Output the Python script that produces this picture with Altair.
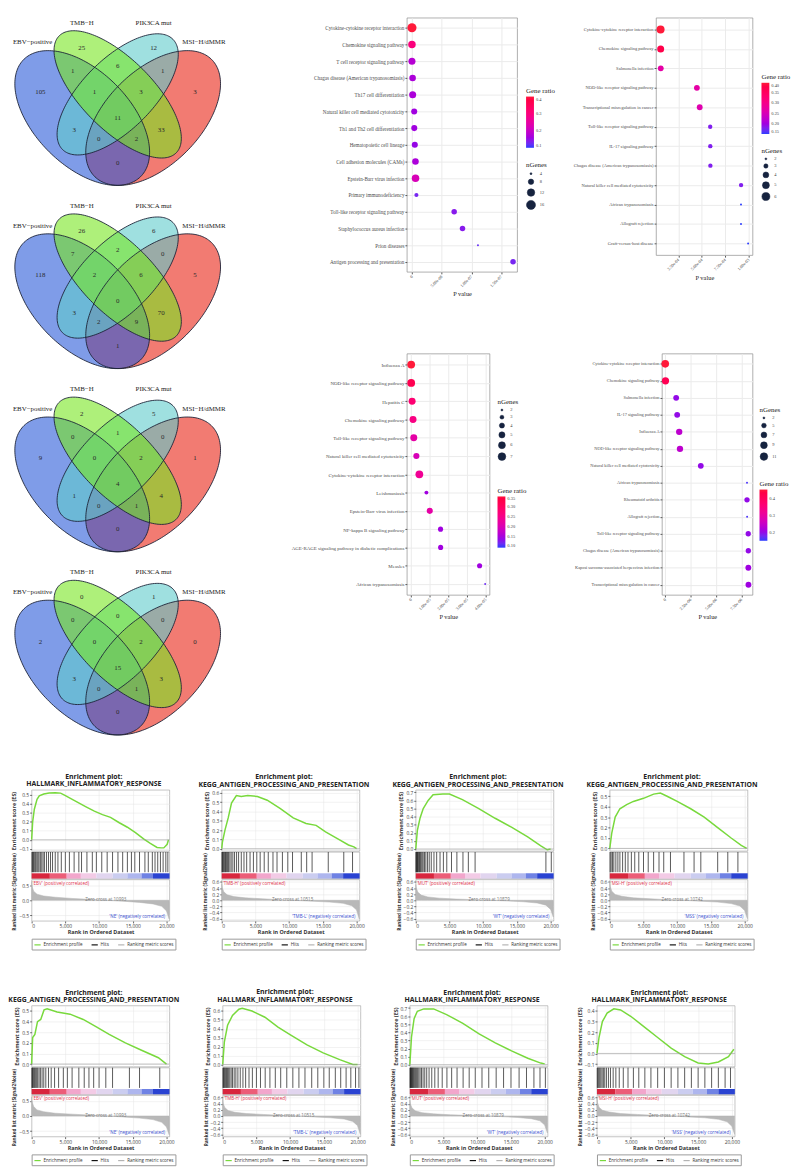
import altair as alt
import numpy as np
import pandas as pd

SERIF = "Liberation Serif"
SANS = "Open Sans"

# ===================== Venn diagrams (data) =====================
SET_NAMES = ["EBV−positive", "TMB−H", "PIK3CA mut", "MSI−H/dMMR"]
REGIONS = ["E", "T", "P", "M", "ET", "TP", "PM", "ETP", "TPM", "EP", "ETPM", "TM", "EPM", "ETM", "EM"]
VENN_1 = [105, 25, 12, 3, 1, 6, 1, 1, 3, 3, 11, 33, 0, 2, 0]
VENN_2 = [118, 26, 6, 5, 7, 2, 0, 2, 6, 3, 0, 70, 2, 9, 1]
VENN_3 = [9, 2, 5, 1, 0, 1, 0, 0, 2, 1, 4, 4, 0, 1, 0]
VENN_4 = [2, 0, 1, 0, 0, 0, 0, 0, 2, 3, 15, 3, 0, 1, 0]
VENN_COUNTS = [VENN_1, VENN_2, VENN_3, VENN_4]

# ===================== KEGG dot plots (data) =====================
DP1_PATHWAYS = ["Cytokine-cytokine receptor interaction", "Chemokine signaling pathway",
                "T cell receptor signaling pathway", "Chagas disease (American trypanosomiasis)",
                "Th17 cell differentiation", "Natural killer cell mediated cytotoxicity",
                "Th1 and Th2 cell differentiation", "Hematopoietic cell lineage",
                "Cell adhesion molecules (CAMs)", "Epstein-Barr virus infection",
                "Primary immunodeficiency", "Toll-like receptor signaling pathway",
                "Staphylococcus aureus infection", "Prion diseases",
                "Antigen processing and presentation"]
DP1_P = [5e-12, 1e-11, 2e-11, 1.1e-9, 1.2e-9, 3.8e-9, 3.9e-9, 4.8e-9, 5.9e-9, 6.0e-9,
         7.5e-9, 7.1e-8, 8.5e-8, 1.11e-7, 1.70e-7]
DP1_RATIO = [0.40, 0.30, 0.18, 0.17, 0.17, 0.16, 0.16, 0.15, 0.17, 0.22, 0.13, 0.14, 0.14, 0.12, 0.13]
DP1_N = [16, 12, 11, 10, 11, 9, 9, 9, 10, 12, 6, 8, 8, 4, 8]
DP1_XTICKS = [0, 5e-08, 1e-07, 1.5e-07]
DP1_XLABELS = ["0", "5.00e-08", "1.00e-07", "1.50e-07"]

DP2_PATHWAYS = ["Cytokine-cytokine receptor interaction", "Chemokine signaling pathway",
                "Salmonella infection", "NOD-like receptor signaling pathway",
                "Transcriptional misregulation in cancer", "Toll-like receptor signaling pathway",
                "IL-17 signaling pathway", "Chagas disease (American trypanosomiasis)",
                "Natural killer cell mediated cytotoxicity", "African trypanosomiasis",
                "Allograft rejection", "Graft-versus-host disease"]
DP2_P = [6e-5, 6.1e-5, 6.2e-5, 4.48e-4, 4.78e-4, 5.9e-4, 5.91e-4, 5.92e-4, 9.2e-4, 9.19e-4, 9.19e-4, 9.95e-4]
DP2_RATIO = [0.40, 0.38, 0.27, 0.27, 0.26, 0.18, 0.18, 0.18, 0.18, 0.15, 0.15, 0.15]
DP2_N = [6, 5, 4, 4, 4, 3, 3, 3, 3, 2, 2, 2]
DP2_XTICKS = [0.00025, 0.0005, 0.00075, 0.001]
DP2_XLABELS = ["2.50e-04", "5.00e-04", "7.50e-04", "1.00e-03"]

DP3_PATHWAYS = ["Influenza A", "NOD-like receptor signaling pathway", "Hepatitis C",
                "Chemokine signaling pathway", "Toll-like receptor signaling pathway",
                "Natural killer cell mediated cytotoxicity", "Cytokine-cytokine receptor interaction",
                "Leishmaniasis", "Epstein-Barr virus infection", "NF-kappa B signaling pathway",
                "AGE-RAGE signaling pathway in diabetic complications", "Measles",
                "African trypanosomiasis"]
DP3_P = [1e-8, 2e-8, 5e-7, 1.0e-6, 1.4e-6, 2.8e-6, 4.4e-6, 8.2e-6, 1.0e-5, 1.58e-5, 1.585e-5, 3.68e-5, 3.98e-5]
DP3_RATIO = [0.35, 0.32, 0.28, 0.26, 0.22, 0.20, 0.24, 0.15, 0.22, 0.15, 0.15, 0.15, 0.12]
DP3_N = [7, 7, 6, 6, 6, 5, 7, 3, 5, 4, 4, 4, 2]
DP3_XTICKS = [0, 1e-05, 2e-05, 3e-05, 4e-05]
DP3_XLABELS = ["0", "1.00e-05", "2.00e-05", "3.00e-05", "4.00e-05"]

DP4_PATHWAYS = ["Cytokine-cytokine receptor interaction", "Chemokine signaling pathway",
                "Salmonella infection", "IL-17 signaling pathway", "Influenza A",
                "NOD-like receptor signaling pathway", "Natural killer cell mediated cytotoxicity",
                "African trypanosomiasis", "Rheumatoid arthritis", "Allograft rejection",
                "Toll-like receptor signaling pathway", "Chagas disease (American trypanosomiasis)",
                "Kaposi sarcoma-associated herpesvirus infection",
                "Transcriptional misregulation in cancer"]
DP4_P = [1e-9, 2.5e-8, 1.075e-6, 1.175e-6, 1.375e-6, 1.45e-6, 3.5e-6, 8.05e-6, 8.05e-6, 8.06e-6,
         8.17e-6, 8.18e-6, 8.18e-6, 8.19e-6]
DP4_RATIO = [0.46, 0.42, 0.20, 0.20, 0.24, 0.24, 0.20, 0.16, 0.20, 0.16, 0.20, 0.20, 0.21, 0.21]
DP4_N = [11, 10, 7, 7, 8, 8, 7, 2, 6, 2, 6, 6, 7, 7]
DP4_XTICKS = [0, 2.5e-06, 5e-06, 7.5e-06]
DP4_XLABELS = ["0", "2.50e-06", "5.00e-06", "7.50e-06"]

DP_PATHWAYS = [DP1_PATHWAYS, DP2_PATHWAYS, DP3_PATHWAYS, DP4_PATHWAYS]
DP_P = [DP1_P, DP2_P, DP3_P, DP4_P]
DP_RATIO = [DP1_RATIO, DP2_RATIO, DP3_RATIO, DP4_RATIO]
DP_N = [DP1_N, DP2_N, DP3_N, DP4_N]
DP_XTICKS = [DP1_XTICKS, DP2_XTICKS, DP3_XTICKS, DP4_XTICKS]
DP_XLABELS = [DP1_XLABELS, DP2_XLABELS, DP3_XLABELS, DP4_XLABELS]
DP_RATIO_TICKS = [[0.1, 0.2, 0.3, 0.4], [0.15, 0.2, 0.25, 0.3, 0.35, 0.4],
                  [0.1, 0.15, 0.2, 0.25, 0.3, 0.35], [0.2, 0.3, 0.4]]
DP_N_TICKS = [[4, 8, 12, 16], [2, 3, 4, 5, 6], [2, 3, 4, 5, 6, 7], [2, 5, 7, 9, 11]]

# ===================== GSEA plots (data) =====================
GSEA_GENESET = ["HALLMARK_INFLAMMATORY_RESPONSE", "KEGG_ANTIGEN_PROCESSING_AND_PRESENTATION",
                "KEGG_ANTIGEN_PROCESSING_AND_PRESENTATION", "KEGG_ANTIGEN_PROCESSING_AND_PRESENTATION",
                "KEGG_ANTIGEN_PROCESSING_AND_PRESENTATION", "HALLMARK_INFLAMMATORY_RESPONSE",
                "HALLMARK_INFLAMMATORY_RESPONSE", "HALLMARK_INFLAMMATORY_RESPONSE"]
GSEA_POS = ["'EBV' (positively correlated)", "'TMB-H' (positively correlated)",
            "'MUT' (positively correlated)", "'MSI-H' (positively correlated)"] * 2
GSEA_NEG = ["'NE' (negatively correlated)", "'TMB-L' (negatively correlated)",
            "'WT' (negatively correlated)", "'MSS' (negatively correlated)"] * 2
GSEA_ZERO = [10993, 10515, 10879, 10742, 10993, 10515, 10879, 10742]

ES1_R = [0, 150, 400, 800, 1130, 1800, 2600, 3500, 4300, 4800, 6500, 8000, 9300, 10500, 11700,
         13000, 14200, 15400, 16600, 17600, 18600, 19200, 19600, 20100, 20300]
ES1_V = [0, 0.2, 0.34, 0.45, 0.49, 0.51, 0.52, 0.525, 0.52, 0.50, 0.43, 0.37, 0.32, 0.28, 0.25,
         0.19, 0.14, 0.08, 0.01, -0.04, -0.085, -0.09, -0.09, -0.05, 0.0]
ES2_R = [0, 100, 480, 960, 1450, 2170, 2900, 3850, 5300, 6750, 8700, 10600, 12500, 14000, 15400,
         17350, 18800, 19600, 20000]
ES2_V = [0, 0.07, 0.2, 0.33, 0.49, 0.57, 0.56, 0.57, 0.56, 0.52, 0.43, 0.33, 0.27, 0.25, 0.18,
         0.1, 0.04, 0.02, 0.0]
ES3_R = [0, 240, 630, 1110, 1840, 2570, 4020, 5000, 6920, 9350, 11770, 14190, 16600, 18550, 19500, 20000]
ES3_V = [0, 0.23, 0.38, 0.5, 0.6, 0.67, 0.68, 0.68, 0.61, 0.5, 0.38, 0.27, 0.15, 0.04, -0.01, 0.0]
ES4_R = [0, 300, 800, 1500, 2500, 3500, 5000, 6500, 7500, 8500, 10000, 12000, 14000, 16000, 18000,
         19500, 20300]
ES4_V = [0, 0.15, 0.3, 0.38, 0.42, 0.45, 0.48, 0.52, 0.53, 0.5, 0.45, 0.38, 0.3, 0.2, 0.1, 0.03, 0.0]
ES5_R = [0, 150, 480, 870, 1350, 1840, 2300, 3780, 5700, 7650, 9600, 11500, 13900, 16300, 18800, 20000]
ES5_V = [0, 0.25, 0.28, 0.4, 0.42, 0.51, 0.52, 0.49, 0.47, 0.42, 0.35, 0.28, 0.2, 0.13, 0.06, 0.0]
ES6_R = [0, 240, 720, 1450, 2400, 2900, 4340, 6260, 8200, 10100, 12500, 14900, 17350, 19300, 20000]
ES6_V = [0, 0.25, 0.44, 0.55, 0.62, 0.63, 0.6, 0.53, 0.42, 0.33, 0.22, 0.13, 0.055, 0.0, 0.0]
ES7_R = [0, 240, 630, 1110, 2070, 3520, 5450, 7860, 10270, 12670, 15080, 17490, 19420, 20000]
ES7_V = [0, 0.34, 0.57, 0.66, 0.69, 0.69, 0.62, 0.51, 0.38, 0.27, 0.17, 0.08, 0.02, 0.01]
ES8_R = [0, 300, 800, 1500, 2500, 3500, 5000, 7000, 9000, 11000, 13000, 15000, 16500, 18000, 19500, 20300]
ES8_V = [0, 0.15, 0.3, 0.38, 0.42, 0.41, 0.35, 0.25, 0.15, 0.05, -0.03, -0.09, -0.1, -0.08, -0.03, 0.04]
ES_R = [ES1_R, ES2_R, ES3_R, ES4_R, ES5_R, ES6_R, ES7_R, ES8_R]
ES_V = [ES1_V, ES2_V, ES3_V, ES4_V, ES5_V, ES6_V, ES7_V, ES8_V]
ES_TICKS = [[-0.1, 0, 0.1, 0.2, 0.3, 0.4, 0.5], [0, 0.1, 0.2, 0.3, 0.4, 0.5, 0.6],
            [0, 0.1, 0.2, 0.3, 0.4, 0.5, 0.6, 0.7], [0, 0.1, 0.2, 0.3, 0.4, 0.5],
            [0, 0.1, 0.2, 0.3, 0.4, 0.5], [0, 0.1, 0.2, 0.3, 0.4, 0.5, 0.6],
            [0, 0.1, 0.2, 0.3, 0.4, 0.5, 0.6, 0.7], [-0.1, 0, 0.1, 0.2, 0.3, 0.4]]

HITS1 = [60, 150, 260, 380, 520, 640, 800, 950, 1100, 1300, 1500, 1700, 1900, 2200, 2500, 2800, 3100,
         3500, 3900, 4400, 5000, 5600, 6300, 7000, 7400, 8200, 9000, 9600, 10400, 11200, 12000, 12800,
         13500, 14200, 14800, 15300, 16000, 16800, 17300, 17900, 18300, 18700, 19100, 19500, 19900, 20200]
HITS2 = [40, 120, 230, 330, 450, 560, 700, 850, 1000, 1200, 1400, 1650, 1900, 2200, 2500, 2900, 3300,
         3700, 4200, 4700, 5200, 5700, 6300, 6900, 7600, 8200, 9000, 9800, 10500, 11800, 12600, 13400,
         15800, 18100, 19400]
HITS3 = [30, 100, 180, 260, 350, 450, 560, 680, 800, 950, 1100, 1300, 1500, 1750, 2000, 2300, 2700,
         3100, 3600, 4100, 4600, 5300, 6100, 7000, 7800, 8800, 19300, 20100]
HITS4 = [50, 200, 400, 600, 900, 1200, 1500, 1900, 2300, 2700, 3200, 3700, 4300, 5000, 5700, 6500,
         7300, 8000, 9000, 11000, 12500, 13500, 16000, 17500, 19000]
HITS5 = [40, 120, 220, 330, 450, 600, 750, 900, 1100, 1300, 1550, 1800, 2100, 2500, 2900, 3400, 4000,
         4700, 5300, 6000, 7000, 7800, 8500, 9200, 10000, 11000, 12000, 14500, 16000, 19000]
HITS6 = [40, 130, 230, 340, 460, 580, 720, 880, 1050, 1250, 1450, 1700, 1950, 2250, 2600, 3000, 3400,
         3900, 4400, 5000, 5600, 6300, 7000, 7800, 8600, 9500, 10400, 11300, 12200, 13200, 14100,
         15000, 15800, 16700, 17500, 18300, 19000, 19700, 20200]
HITS7 = [30, 90, 160, 240, 320, 410, 510, 620, 740, 870, 1010, 1160, 1330, 1520, 1730, 1960, 2210,
         2500, 2850, 3250, 3700, 4200, 4800, 5500, 6200, 7000, 7900, 8800, 9700, 10700, 11700, 12800,
         13900, 15000, 16200, 17300, 18400, 19300, 20100]
HITS8 = [50, 150, 280, 420, 580, 760, 950, 1150, 1400, 1700, 2000, 2400, 2800, 3300, 3900, 4600, 5400,
         6200, 7100, 8000, 9000, 10000, 11000, 12000, 13000, 14000, 15000, 16000, 17000, 18000, 19000, 19800]
HITS = [HITS1, HITS2, HITS3, HITS4, HITS5, HITS6, HITS7, HITS8]

BAND_START = [0, 2700, 5200, 7300, 9600, 12000, 14200, 16300, 18000]
BAND_END = [2700, 5200, 7300, 9600, 12000, 14200, 16300, 18000, 20450]

MET_R = [0, 80, 300, 800, 1800, 3500, 6000, 8500, 11000, 13500, 16000, 18000, 19300, 20000, 20400]
MET1 = [0.62, 0.45, 0.30, 0.20, 0.14, 0.10, 0.06, 0.03, 0.00, -0.03, -0.07, -0.12, -0.20, -0.35, -0.62]
MET2 = [0.55, 0.42, 0.28, 0.18, 0.12, 0.08, 0.05, 0.02, -0.005, -0.03, -0.06, -0.10, -0.18, -0.32, -0.62]
MET3 = [0.52, 0.40, 0.27, 0.17, 0.11, 0.07, 0.04, 0.02, 0.00, -0.02, -0.05, -0.09, -0.16, -0.30, -0.55]
MET4 = [0.60, 0.45, 0.30, 0.19, 0.13, 0.08, 0.05, 0.02, 0.00, -0.03, -0.06, -0.11, -0.19, -0.34, -0.60]
MET5 = [0.62, 0.46, 0.31, 0.20, 0.14, 0.09, 0.06, 0.03, 0.00, -0.03, -0.07, -0.12, -0.21, -0.36, -0.62]
MET6 = [0.55, 0.41, 0.28, 0.18, 0.12, 0.08, 0.05, 0.02, -0.005, -0.03, -0.06, -0.10, -0.18, -0.32, -0.60]
MET7 = [0.52, 0.40, 0.27, 0.17, 0.11, 0.07, 0.04, 0.02, 0.00, -0.02, -0.05, -0.09, -0.16, -0.30, -0.56]
MET8 = [0.58, 0.44, 0.29, 0.19, 0.13, 0.08, 0.05, 0.02, 0.00, -0.03, -0.06, -0.11, -0.19, -0.34, -0.60]
MET_V = [MET1, MET2, MET3, MET4, MET5, MET6, MET7, MET8]
MET_TICKS = [[-0.5, 0, 0.5]] + [[-0.6, -0.4, -0.2, 0, 0.2, 0.4, 0.6]] * 3 + \
            [[-0.5, 0, 0.5]] + [[-0.6, -0.4, -0.2, 0, 0.2, 0.4, 0.6]] * 3

LEG_ITEMS = ["Enrichment profile", "Hits", "Ranking metric scores"]

# ===================== layout / style constants =====================
VENN_W, VENN_H, VENN_S = 225, 174, 240.0
VX = [0.136, 0.136 + VENN_W / VENN_S]
VY = [0.894 - VENN_H / VENN_S, 0.894]
ELLIPSES = [(0.35, 0.47, 0.35, 0.20, 135), (0.50, 0.57, 0.35, 0.15, 135),
            (0.50, 0.57, 0.33, 0.15, 45), (0.65, 0.47, 0.35, 0.20, 45)]
VENN_FILL = ["#2a5ad8", "#78e621", "#5fcbcb", "#e92314"]
DRAW_ORDER = [3, 0, 2, 1]
REGION_X = [0.173, 0.348, 0.652, 0.827, 0.31, 0.5, 0.69, 0.402, 0.598, 0.316, 0.5, 0.684, 0.42, 0.58, 0.5]
REGION_Y = [0.58, 0.767, 0.767, 0.58, 0.67, 0.688, 0.67, 0.58, 0.58, 0.42, 0.47, 0.42, 0.38, 0.38, 0.28]
NAME_X = [0.2235, 0.348, 0.652, 0.7735]
NAME_Y = [0.79, 0.873, 0.873, 0.79]
NAME_ALIGN = ["right", "center", "center", "left"]

RATIO_COLORS = ["#2b3cff", "#ff1a3a"]
DP_LAYOUT = [
    dict(w=112, h=258, xdom=[-8.5e-9, 1.77e-7], lab=5.2, cl=(121, 70), sl=(121, 146),
         cdom=(0.1, 0.4), cfmt=".1f", ndom=(4, 16), srange=(4, 85)),
    dict(w=98, h=241, xdom=[1.2e-5, 1.043e-3], lab=4.6, cl=(107, 56), sl=(107, 131),
         cdom=(0.15, 0.40), cfmt=".2f", ndom=(2, 6), srange=(4, 66)),
    dict(w=84, h=245, xdom=[-2.3e-6, 4.22e-5], lab=5.0, cl=(92, 135), sl=(92, 45),
         cdom=(0.10, 0.35), cfmt=".2f", ndom=(2, 7), srange=(4, 62)),
    dict(w=92, h=245, xdom=[-3.2e-7, 8.6e-6], lab=4.4, cl=(99, 128), sl=(99, 53),
         cdom=(0.15, 0.46), cfmt=".1f", ndom=(2, 11), srange=(4, 60)),
]
BAND_COLORS = ["#d8263e", "#ec5d78", "#f2a6cc", "#f3cbe6", "#e1d5ef", "#cbcdf0", "#aeb6ee", "#6f82e4", "#2a43d2"]
LEG_COLORS = ["#78d93c", "#111111", "#b3b3b3"]
GW = 140


def ellipse_band(cx, cy, a, b, ang, n=90):
    t = np.radians(ang)
    c, s = np.cos(t), np.sin(t)
    ext = np.sqrt(a * a * c * c + b * b * s * s)
    xs = cx + ext * np.cos(np.linspace(np.pi, 0, n))
    dx = xs - cx
    A = s * s / (a * a) + c * c / (b * b)
    B = 2 * dx * c * s * (1 / (a * a) - 1 / (b * b))
    C = dx * dx * (c * c / (a * a) + s * s / (b * b)) - 1
    disc = np.sqrt(np.clip(B * B - 4 * A * C, 0, None))
    return pd.DataFrame({"x": xs, "lo": cy + (-B - disc) / (2 * A), "hi": cy + (-B + disc) / (2 * A)})


ELL_FRAMES = [ellipse_band(*e) for e in ELLIPSES]


def venn_chart(k):
    xsc = alt.Scale(domain=VX, nice=False, zero=False)
    ysc = alt.Scale(domain=VY, nice=False, zero=False)
    X = lambda f: alt.X(f, scale=xsc, axis=None)
    Y = lambda f: alt.Y(f, scale=ysc, axis=None)
    layers = []
    for si in DRAW_ORDER:
        layers.append(alt.Chart(ELL_FRAMES[si]).mark_area(fill=VENN_FILL[si], fillOpacity=0.6, strokeWidth=0).encode(
            x=X("x:Q"), y=Y("lo:Q"), y2="hi:Q"))
    for si in DRAW_ORDER:
        layers.append(alt.Chart(ELL_FRAMES[si]).mark_area(fill="#ffffff", fillOpacity=0, stroke="#1b2236",
                                                           strokeWidth=0.9).encode(
            x=X("x:Q"), y=Y("lo:Q"), y2="hi:Q"))
    nums = pd.DataFrame({"n": VENN_COUNTS[k], "ux": REGION_X, "uy": REGION_Y})
    layers.append(alt.Chart(nums).mark_text(font=SERIF, fontSize=7, color="#2a2a2a").encode(
        x=X("ux:Q"), y=Y("uy:Q"), text="n:N"))
    names = pd.DataFrame({"name": SET_NAMES, "ux": NAME_X, "uy": NAME_Y, "al": NAME_ALIGN})
    for al in ["left", "center", "right"]:
        layers.append(alt.Chart(names).transform_filter(alt.datum.al == al).mark_text(
            font=SERIF, fontSize=7, color="#222", align=al).encode(x=X("ux:Q"), y=Y("uy:Q"), text="name:N"))
    return alt.layer(*layers).properties(width=VENN_W, height=VENN_H,
                                         view=alt.ViewBackground(fill="white", strokeOpacity=0))


def label_expr(values, labels):
    parts = [f"datum.value == {v!r} ? '{l}'" for v, l in zip(values, labels)]
    return " : ".join(parts) + " : ''"


def dot_plot(k):
    L = DP_LAYOUT[k]
    df = pd.DataFrame({"pathway": DP_PATHWAYS[k], "p": DP_P[k], "ratio": DP_RATIO[k], "n": DP_N[k]})
    color = alt.Color("ratio:Q",
                      scale=alt.Scale(domain=list(L["cdom"]), range=RATIO_COLORS, interpolate="hcl", clamp=True),
                      legend=alt.Legend(title="Gene ratio", orient="none", legendX=L["cl"][0], legendY=L["cl"][1],
                                        values=DP_RATIO_TICKS[k], format=L["cfmt"], gradientLength=52,
                                        gradientThickness=8, titleFont=SERIF, titleFontSize=7,
                                        titleFontWeight="normal", titleColor="#222", labelFont=SERIF,
                                        labelFontSize=4.5, labelColor="#444", direction="vertical",
                                        titlePadding=3))
    size = alt.Size("n:Q", scale=alt.Scale(domain=list(L["ndom"]), range=list(L["srange"])),
                    legend=alt.Legend(title="nGenes", orient="none", legendX=L["sl"][0], legendY=L["sl"][1],
                                      values=DP_N_TICKS[k], symbolType="circle", symbolFillColor="#16233f",
                                      symbolStrokeColor="#16233f", symbolStrokeWidth=0.5,
                                      titleFont=SERIF, titleFontSize=7, titleFontWeight="normal",
                                      titleColor="#222", labelFont=SERIF, labelFontSize=4.5,
                                      labelColor="#444", rowPadding=1, titlePadding=3))
    x = alt.X("p:Q", scale=alt.Scale(domain=L["xdom"], nice=False, zero=False),
              axis=alt.Axis(values=DP_XTICKS[k], labelExpr=label_expr(DP_XTICKS[k], DP_XLABELS[k]),
                            labelAngle=315, labelAlign="right", labelBaseline="middle",
                            labelFont=SERIF, labelFontSize=4.3, labelColor="#444", tickSize=2,
                            tickColor="#555", domain=False, grid=True, gridColor="#ebebeb",
                            title="P value", titleFont=SERIF, titleFontSize=6.5, titleFontWeight="normal",
                            titleColor="#222", titlePadding=3, labelPadding=2, labelOverlap=False))
    y = alt.Y("pathway:N", sort=DP_PATHWAYS[k], scale=alt.Scale(padding=0.6),
              axis=alt.Axis(title=None, labelFont=SERIF, labelFontSize=L["lab"], labelColor="#4d4d4d",
                            tickSize=2, tickColor="#555", domain=False, grid=True, gridColor="#ebebeb",
                            labelLimit=200, labelPadding=1, labelOverlap=False))
    return alt.Chart(df).mark_circle(opacity=1).encode(x=x, y=y, color=color, size=size).properties(
        width=L["w"], height=L["h"],
        view=alt.ViewBackground(stroke="#8c8c8c", strokeWidth=0.7, fill="white"))


def gsea_panel(i):
    xs = alt.Scale(domain=[0, 20450], nice=False, zero=False)
    sscale = alt.Scale(domain=LEG_ITEMS, range=LEG_COLORS)
    leg = alt.Legend(orient="bottom", direction="horizontal", title=None, symbolType="stroke",
                     symbolStrokeWidth=1.2, symbolSize=40, labelFont=SANS, labelFontSize=4.6, labelColor="#333",
                     strokeColor="#999", padding=2, offset=3, columnPadding=6, labelOffset=2)
    grid_c = "#e4e4e4"
    tick_vals = [0, 5000, 10000, 15000, 20000]
    es_x_axis = alt.Axis(values=tick_vals, labels=False, ticks=False, domain=False, title=None, grid=True,
                         gridColor=grid_c, gridWidth=0.5)
    es_y_axis = alt.Axis(values=ES_TICKS[i], labelExpr="format(datum.value, '.1f')", title="Enrichment score (ES)",
                         titleFont=SANS, titleFontSize=5.5, titleFontWeight="bold", titleColor="#333",
                         labelFont=SANS, labelFontSize=5, labelColor="#444", tickSize=2,
                         tickColor="#666", domain=False, grid=True, gridColor=grid_c,
                         gridWidth=0.5, titlePadding=2, labelPadding=1, labelOverlap=False)
    es = pd.DataFrame({"rank": ES_R[i], "es": ES_V[i]})
    lo_es = min(ES_TICKS[i]) - 0.025
    hi_es = max(max(ES_V[i]), max(ES_TICKS[i])) + 0.03
    es_y = alt.Scale(domain=[lo_es, hi_es], nice=False, zero=False)
    es_chart = alt.layer(
        alt.Chart(es).transform_calculate(item="'Enrichment profile'").mark_line(strokeWidth=1.5).encode(
            x=alt.X("rank:Q", scale=xs, axis=es_x_axis),
            y=alt.Y("es:Q", scale=es_y, axis=es_y_axis),
            stroke=alt.Stroke("item:N", scale=sscale, legend=leg)),
        alt.Chart(es).transform_aggregate(cnt="count()").mark_rule(color="#999", strokeWidth=0.6).encode(
            y=alt.YDatum(0, type="quantitative", scale=es_y, axis=es_y_axis)),
    ).properties(width=GW, height=62, view=alt.ViewBackground(stroke="#9a9a9a", strokeWidth=0.6))

    bands = pd.DataFrame({"start": BAND_START, "end": BAND_END, "band": list(range(len(BAND_START)))})
    hits = pd.DataFrame({"rank": HITS[i]})
    hy = alt.Scale(domain=[0, 1], nice=False, zero=False)
    hits_chart = alt.layer(
        alt.Chart(bands).mark_rect().encode(
            x=alt.X("start:Q", scale=xs, axis=None), x2="end:Q",
            y=alt.YDatum(0, type="quantitative", scale=hy, axis=None), y2=alt.Y2Datum(0.2),
            fill=alt.Fill("band:O", scale=alt.Scale(range=BAND_COLORS), legend=None)),
        alt.Chart(hits).transform_calculate(item="'Hits'").mark_rule(strokeWidth=0.7).encode(
            x=alt.X("rank:Q", scale=xs, axis=None),
            y=alt.YDatum(0.24, type="quantitative", scale=hy, axis=None), y2=alt.Y2Datum(1),
            stroke=alt.Stroke("item:N", scale=sscale, legend=leg)),
    ).properties(width=GW, height=27, view=alt.ViewBackground(stroke="#9a9a9a", strokeWidth=0.6))

    met_x_axis = alt.Axis(values=tick_vals, labelExpr="format(datum.value, ',')", title="Rank in Ordered Dataset",
                          titleFont=SANS, titleFontSize=5.5, titleFontWeight="bold", titleColor="#333",
                          labelFont=SANS, labelFontSize=5, labelColor="#444", tickSize=2,
                          tickColor="#666", domain=False, grid=True, gridColor=grid_c, gridWidth=0.5,
                          titlePadding=1, labelPadding=1, labelOverlap=False)
    met_y_axis = alt.Axis(values=MET_TICKS[i], labelExpr="format(datum.value, '.1f')",
                          title="Ranked list metric (Signal2Noise)",
                          titleFont=SANS, titleFontSize=4.8, titleFontWeight="bold", titleColor="#333",
                          titleY=12, labelFont=SANS, labelFontSize=5, labelColor="#444", tickSize=2,
                          tickColor="#666", domain=False, grid=True, gridColor=grid_c,
                          gridWidth=0.5, titlePadding=2, labelPadding=1, labelOverlap=False)
    met = pd.DataFrame({"rank": MET_R, "metric": MET_V[i]})
    my = alt.Scale(domain=[-0.68, 0.68], nice=False, zero=False)
    txt = pd.DataFrame({"pos": [GSEA_POS[i]], "neg": [GSEA_NEG[i]],
                        "zero": [f"Zero cross at {GSEA_ZERO[i]}"]})
    met_chart = alt.layer(
        alt.Chart(met).transform_calculate(item="'Ranking metric scores'").mark_area(
            fill="#b8b8b8", strokeWidth=0.5).encode(
            x=alt.X("rank:Q", scale=xs, axis=met_x_axis),
            y=alt.Y("metric:Q", scale=my, axis=met_y_axis),
            y2=alt.Y2Datum(0),
            stroke=alt.Stroke("item:N", scale=sscale, legend=leg)),
        alt.Chart(txt).mark_text(font=SANS, fontSize=4.6, color="#e0304a", align="left", baseline="top",
                                 dx=1, dy=1).encode(
            x=alt.XDatum(0, type="quantitative", scale=xs, axis=met_x_axis),
            y=alt.YDatum(0.68, type="quantitative", scale=my, axis=met_y_axis), text="pos:N"),
        alt.Chart(txt).mark_text(font=SANS, fontSize=4.6, color="#777", align="center",
                                 baseline="middle").encode(
            x=alt.XDatum(GSEA_ZERO[i], type="quantitative", scale=xs, axis=met_x_axis),
            y=alt.YDatum(0, type="quantitative", scale=my, axis=met_y_axis), text="zero:N"),
        alt.Chart(txt).mark_text(font=SANS, fontSize=4.6, color="#3a4fd0", align="right", baseline="bottom",
                                 dy=-2).encode(
            x=alt.XDatum(19800, type="quantitative", scale=xs, axis=met_x_axis),
            y=alt.YDatum(-0.68, type="quantitative", scale=my, axis=met_y_axis), text="neg:N"),
    ).properties(width=GW, height=42, view=alt.ViewBackground(stroke="#9a9a9a", strokeWidth=0.6))

    return alt.vconcat(es_chart, hits_chart, met_chart, spacing=1, bounds="flush",
                       title=alt.TitleParams(["Enrichment plot:", GSEA_GENESET[i]], font=SANS, fontSize=7,
                                             fontWeight="bold", color="#222", anchor="middle", offset=2,
                                             lineHeight=8))


IND = dict(color="independent", size="independent", stroke="independent", fill="independent")

venn_col = alt.vconcat(*[venn_chart(k) for k in range(4)], spacing=12)
dp_row1 = alt.hconcat(dot_plot(0), dot_plot(1), spacing=16).resolve_scale(**IND)
dp_row2 = alt.hconcat(dot_plot(2), dot_plot(3), spacing=46).resolve_scale(**IND)
dot_grid = alt.vconcat(dp_row1, dp_row2, spacing=55).resolve_scale(**IND)
top = alt.hconcat(venn_col, dot_grid, spacing=37).resolve_scale(**IND)

g1 = alt.hconcat(*[gsea_panel(i) for i in range(4)], spacing=22).resolve_scale(**IND)
g2 = alt.hconcat(*[gsea_panel(i) for i in range(4, 8)], spacing=22).resolve_scale(**IND)
gsea = alt.vconcat(g1, g2, spacing=38).resolve_scale(**IND)

chart = alt.vconcat(top, gsea, spacing=34).resolve_scale(**IND).properties(
    padding=0, background="white").configure(font=SANS).configure_view(stroke="#9a9a9a")

chart.save("out.html", embed_options={"renderer": "svg", "actions": False})
